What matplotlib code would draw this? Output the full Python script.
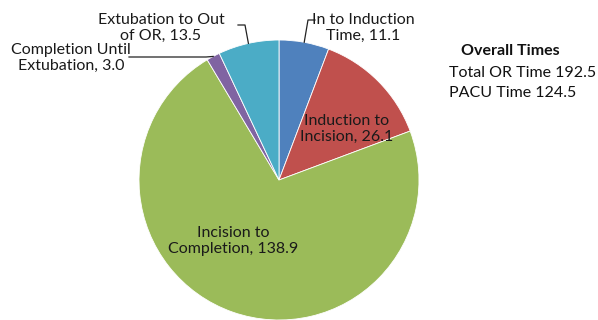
import numpy as np
import matplotlib
matplotlib.use("Agg")
import matplotlib.pyplot as plt
from matplotlib.lines import Line2D

categories = ["In to Induction\nTime", "Induction to\nIncision", "Incision to\nCompletion",
              "Completion Until\nExtubation", "Extubation to Out\nof OR"]
values = [11.1, 26.1, 138.9, 3.0, 13.5]
colors = ["#4F81BD", "#C0504D", "#9BBB59", "#8064A2", "#4BACC6"]
summary_title = "Overall Times"
summary_lines = ["Total OR Time 192.5", "PACU Time 124.5"]

W, H = 598, 320
fig = plt.figure(figsize=(W / 100, H / 100), dpi=100)
plt.rcParams['font.family'] = ['Lato', 'DejaVu Sans']

cx, cy, R = 279, 180, 140  # pixel center (from top) and radius
ax = fig.add_axes([(cx - R) / W, (H - cy - R) / H, 2 * R / W, 2 * R / H])
wedges, _ = ax.pie(values, colors=colors, startangle=90, counterclock=False, radius=1,
                   wedgeprops=dict(linewidth=0.6, edgecolor="white"))
ax.set_xlim(-1, 1)
ax.set_ylim(-1, 1)
ax.axis("off")

def fp(x, y):
    return x / W, 1 - y / H

def edge_px(i):
    w = wedges[i]
    ang = np.deg2rad((w.theta1 + w.theta2) / 2)
    return cx + R * np.cos(ang), cy - R * np.sin(ang)

labels = [f"{c}, {v:.1f}" for c, v in zip(categories, values)]
fs = 11.5
pos = {0: (363, 28), 1: (347, 129), 2: (233, 241), 3: (71, 58), 4: (161, 28)}
for i, lab in enumerate(labels):
    x, y = fp(*pos[i])
    fig.text(x, y, lab, ha="center", va="center", fontsize=fs, color="#1a1a1a",
             linespacing=1.15)

def leader(pts):
    xs = [p[0] / W for p in pts]
    ys = [1 - p[1] / H for p in pts]
    fig.add_artist(Line2D(xs, ys, transform=fig.transFigure, color="#222222", lw=0.9))

ex, ey = edge_px(0)
leader([(ex, ey), (308, 20), (315, 20)])
ex, ey = edge_px(4)
leader([(ex, ey), (245, 25), (238, 25)])
ex, ey = edge_px(3)
leader([(ex, ey), (206, 57), (129, 57)])

x, y = fp(510, 51)
fig.text(x, y, summary_title, ha="center", va="center", fontsize=fs, fontweight="bold",
         color="#111111")
for k, s in enumerate(summary_lines):
    x, y = fp(449, 73 + 20 * k)
    fig.text(x, y, s, ha="left", va="center", fontsize=fs, color="#111111")

fig.savefig("out.png", dpi=100, facecolor="white")
